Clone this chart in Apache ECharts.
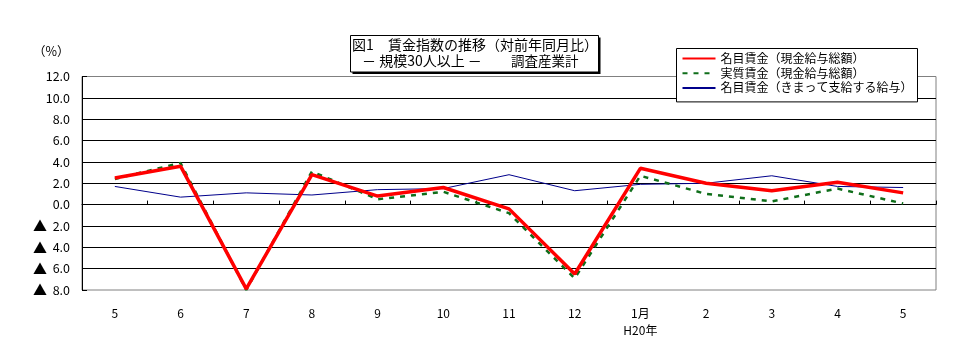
<!DOCTYPE html>
<html>
<head>
<meta charset="utf-8">
<script src="https://cdn.jsdelivr.net/npm/echarts@6/dist/echarts.min.js"></script>
<style>
html,body{margin:0;padding:0;background:#fff;}
#c{width:966px;height:360px;}
</style>
</head>
<body>
<div id="c"></div>
<script>
var categories = ['5','6','7','8','9','10','11','12','1月\nH20年','2','3','4','5'];
var nominalTotal = [2.5, 3.6, -7.9, 2.8, 0.8, 1.6, -0.4, -6.5, 3.4, 2.0, 1.3, 2.1, 1.1];
var realTotal = [2.4, 3.9, -8.0, 3.1, 0.5, 1.2, -0.8, -6.9, 2.7, 1.0, 0.3, 1.5, 0.1];
var nominalRegular = [1.7, 0.7, 1.1, 0.9, 1.4, 1.5, 2.8, 1.3, 1.9, 2.0, 2.7, 1.7, 1.6];
var seriesNames = ['名目賃金（現金給与総額）','実質賃金（現金給与総額）','名目賃金（きまって支給する給与）'];
var yMin = -8, yMax = 12, yStep = 2;

var FONT = '"Noto Sans CJK JP", "Noto Sans", sans-serif';
var chart = echarts.init(document.getElementById('c'), null, {renderer: 'canvas'});

function yFmt(v) {
  if (v < 0) return '{tri|▲}  ' + Math.abs(v).toFixed(1);
  return v.toFixed(1);
}

var option = {
  backgroundColor: '#ffffff',
  animation: false,
  textStyle: {fontFamily: FONT},
  grid: {
    left: 82, right: 30, top: 76.5, bottom: 70,
    show: true, borderColor: '#808080', borderWidth: 1, backgroundColor: 'transparent'
  },
  legend: {
    orient: 'vertical',
    left: 676.5, top: 48.5,
    itemWidth: 33, itemHeight: 12, itemGap: 2.7,
    padding: [4, 5, 8, 5],
    backgroundColor: '#ffffff',
    borderColor: '#000000', borderWidth: 1, borderRadius: 0,
    itemStyle: {opacity: 0, borderWidth: 0},
    textStyle: {fontFamily: FONT, fontSize: 12, color: '#000'},
    data: seriesNames
  },
  xAxis: [{
    type: 'category',
    data: categories,
    boundaryGap: true,
    position: 'bottom',
    axisLine: {show: false, onZero: false},
    axisTick: {show: false},
    splitLine: {show: false},
    axisLabel: {
      fontFamily: FONT, fontSize: 12, color: '#000', margin: 15, lineHeight: 17,
      interval: 0
    }
  }, {
    type: 'category',
    data: categories,
    boundaryGap: true,
    position: 'bottom',
    axisLine: {show: true, onZero: true, lineStyle: {color: '#000', width: 1}},
    axisTick: {show: true, inside: true, length: 4, interval: 0, lineStyle: {color: '#000'}},
    axisLabel: {show: false},
    splitLine: {show: false}
  }],
  yAxis: {
    type: 'value',
    min: yMin, max: yMax, interval: yStep,
    axisLine: {show: true, lineStyle: {color: '#000', width: 1}},
    axisTick: {show: true, inside: true, length: 5, lineStyle: {color: '#000'}},
    splitLine: {show: true, showMinLine: false, showMaxLine: false, lineStyle: {color: '#000', width: 1}},
    axisLabel: {
      fontFamily: FONT, fontSize: 12.5, color: '#000', margin: 12,
      formatter: yFmt,
      rich: {tri: {fontSize: 14, fontFamily: FONT, color: '#000'}}
    }
  },
  series: [{
    name: seriesNames[0], type: 'line', data: nominalTotal,
    symbol: 'none', z: 5,
    lineStyle: {color: '#ff0000', width: 3.5},
    itemStyle: {color: '#ff0000'}
  }, {
    name: seriesNames[1], type: 'line', data: realTotal,
    symbol: 'none', z: 4,
    lineStyle: {color: '#0f6e1a', width: 2.5, type: [5, 6]},
    itemStyle: {color: '#0f6e1a'}
  }, {
    name: seriesNames[2], type: 'line', data: nominalRegular,
    symbol: 'none', z: 3,
    lineStyle: {color: '#00008b', width: 1},
    itemStyle: {color: '#00008b'}
  }],
  graphic: [
    {type: 'rect', z: 10, shape: {x: 352.5, y: 37.5, width: 248, height: 36.5}, style: {fill: '#000'}},
    {type: 'rect', z: 11, shape: {x: 350.5, y: 35.5, width: 248, height: 36.5}, style: {fill: '#fff', stroke: '#000', lineWidth: 1}},
    {type: 'text', z: 12, x: 352, y: 45, style: {text: '図1', fontFamily: FONT, fontSize: 14, fill: '#000', verticalAlign: 'middle'}},
    {type: 'text', z: 12, x: 388, y: 45, style: {text: '賃金指数の推移（対前年同月比）', fontFamily: FONT, fontSize: 14, fill: '#000', verticalAlign: 'middle'}},
    {type: 'text', z: 12, x: 362, y: 61, style: {text: '－ 規模30人以上 －', fontFamily: FONT, fontSize: 14, fill: '#000', verticalAlign: 'middle'}},
    {type: 'text', z: 12, x: 511, y: 61, style: {text: '調査産業計', fontFamily: FONT, fontSize: 13.5, fill: '#000', verticalAlign: 'middle'}},
    {type: 'text', z: 12, x: 33, y: 51, style: {text: '（%）', fontFamily: FONT, fontSize: 12.5, fill: '#000', verticalAlign: 'middle'}}
  ]
};
chart.setOption(option);
</script>
</body>
</html>
